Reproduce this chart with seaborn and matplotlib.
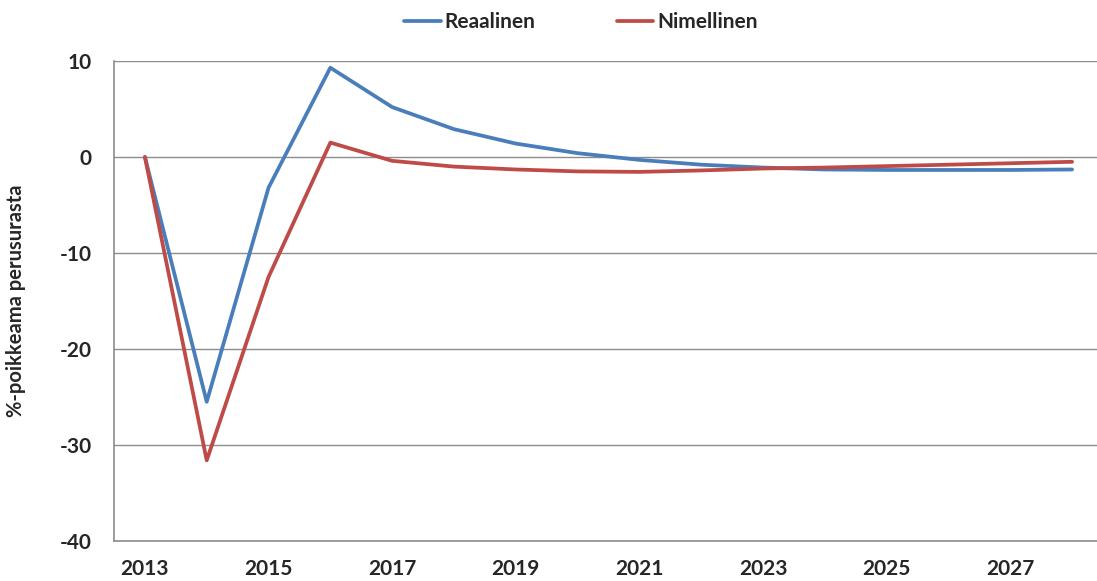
import matplotlib
matplotlib.use("Agg")
import matplotlib.pyplot as plt
import seaborn as sns
import pandas as pd
import numpy as np
from matplotlib.lines import Line2D

years = list(range(2013, 2029))
reaalinen = [0.0, -25.5, -3.2, 9.3, 5.2, 2.9, 1.4, 0.4, -0.3, -0.8, -1.1, -1.3, -1.35, -1.35, -1.35, -1.3]
nimellinen = [0.0, -31.6, -12.5, 1.5, -0.4, -1.0, -1.3, -1.5, -1.55, -1.4, -1.2, -1.1, -0.95, -0.8, -0.65, -0.5]
series_names = ["Reaalinen", "Nimellinen"]
colors = ["#4A7EBB", "#BE4B48"]
y_ticks = [10, 0, -10, -20, -30, -40]
y_label = "%-poikkeama perusurasta"

sns.set_theme(style="white")
plt.rcParams['font.family'] = ['Lato', 'DejaVu Sans']
plt.rcParams['font.weight'] = 'bold'

df = pd.DataFrame({
    "idx": list(range(len(years))) * 2,
    "value": reaalinen + nimellinen,
    "series": [series_names[0]] * len(years) + [series_names[1]] * len(years),
})

fig = plt.figure(figsize=(10.97, 5.81), dpi=100)
W, H = 1097, 581
left_px, right_px, top_px, bot_px = 114, 1103, 61, 541
ax = fig.add_axes([left_px / W, (H - bot_px) / H, (right_px - left_px) / W, (bot_px - top_px) / H])

sns.lineplot(data=df, x="idx", y="value", hue="series", palette=colors,
             linewidth=2.7, ax=ax, legend=False, sort=False)

ax.set_xlim(-0.5, len(years) - 0.5)
ax.set_ylim(-40, 10)
ax.set_yticks(y_ticks)
ax.set_yticklabels([str(v) for v in y_ticks], fontsize=15, fontweight='bold')
for v in y_ticks:
    ax.axhline(v, color="#8C8C8C", linewidth=1.0, zorder=0)

ax.set_xticks(np.arange(0, len(years), 2))
ax.set_xticklabels([str(y) for y in years[::2]], fontsize=15, fontweight='bold')
ax.set_xticks(np.arange(0.5, len(years) - 0.5, 1), minor=True)
ax.tick_params(axis='x', which='major', length=0, pad=13)
ax.tick_params(axis='x', which='minor', length=5, direction='in', color="#8C8C8C", width=1)
ax.tick_params(axis='y', which='major', length=0, pad=16)
ax.set_xlabel("")
ax.set_ylabel(y_label, fontsize=14.5, fontweight='bold')
ax.yaxis.set_label_coords(-(left_px - 26) / (right_px - left_px), 0.5)

for s in ["top", "right"]:
    ax.spines[s].set_visible(False)
for s in ["left", "bottom"]:
    ax.spines[s].set_color("#8C8C8C")
    ax.spines[s].set_linewidth(1.2)

handles = [Line2D([0], [0], color=c, lw=2.7) for c in colors]
fig.legend(handles, series_names, loc="center", bbox_to_anchor=(581 / W, 1 - 22 / H),
           ncol=2, frameon=False, handlelength=1.75, handletextpad=0.2,
           columnspacing=3.9, prop={'weight': 'bold', 'size': 15})

fig.savefig("out.png", dpi=100)
